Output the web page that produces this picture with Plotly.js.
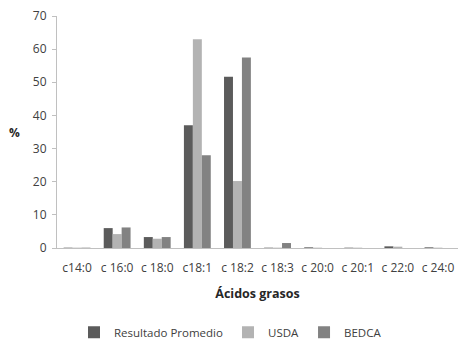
<!DOCTYPE html>
<html>
<head>
<meta charset="utf-8">
<script src="https://cdn.plot.ly/plotly-3.0.1.min.js"></script>
<style>html,body{margin:0;padding:0;background:#fff;}#chart{width:461px;height:341px;}</style>
</head>
<body>
<div id="chart"></div>
<script>
const categories = ["c14:0", "c 16:0", "c 18:0", "c18:1", "c 18:2", "c 18:3", "c 20:0", "c 20:1", "c 22:0", "c 24:0"];
const resultado = [0.1, 6.0, 3.3, 37.0, 51.7, 0.1, 0.2, 0.1, 0.5, 0.2];
const usda = [0.1, 4.2, 2.8, 63.0, 20.2, 0.1, 0.1, 0.1, 0.4, 0.1];
const bedca = [0.1, 6.2, 3.3, 28.0, 57.5, 1.5, 0.0, 0.0, 0.0, 0.0];
const seriesNames = ["Resultado Promedio", "USDA", "BEDCA"];
const yTicks = [0, 10, 20, 30, 40, 50, 60, 70];

const colors = ["#5b5b5b", "#b3b3b3", "#828282"];
const fontFam = "Open Sans, Liberation Sans, sans-serif";
const data = [resultado, usda, bedca].map((vals, i) => ({
  type: "bar",
  x: categories,
  y: vals,
  name: seriesNames[i],
  marker: {color: colors[i]}
}));

const layout = {
  width: 461, height: 341,
  margin: {l: 57, r: 3, t: 16, b: 93},
  paper_bgcolor: "#fff", plot_bgcolor: "#fff",
  font: {family: fontFam, size: 11, color: "#404040"},
  barmode: "group",
  bargap: 0.33,
  bargroupgap: 0,
  showlegend: true,
  xaxis: {
    type: "category",
    showline: true, linecolor: "#c0c0c0", linewidth: 1,
    ticks: "", showgrid: false, zeroline: false,
    ticklabelstandoff: 9,
    tickfont: {size: 12, color: "#404040"},
    title: {text: "<b>Ácidos grasos</b>", font: {size: 12.5, color: "#262626"}, standoff: 13}
  },
  yaxis: {
    range: [0, 70],
    tickvals: yTicks,
    showline: true, linecolor: "#c0c0c0", linewidth: 1,
    ticks: "outside", ticklen: 4, tickcolor: "#c0c0c0",
    ticklabelstandoff: 3,
    showgrid: false, zeroline: false,
    tickfont: {size: 12, color: "#404040"}
  },
  annotations: [{
    text: "<b>%</b>", xref: "paper", yref: "paper", x: -0.105, y: 0.5,
    xanchor: "center", yanchor: "middle", showarrow: false,
    font: {size: 12, color: "#262626"}
  }],
  legend: {
    orientation: "h",
    xref: "container", yref: "container",
    x: 0.5, xanchor: "center",
    y: 0.026, yanchor: "middle",
    font: {size: 11.5, color: "#404040"},
    itemwidth: 30,
    traceorder: "normal"
  }
};

Plotly.newPlot("chart", data, layout, {displayModeBar: false, staticPlot: true});
</script>
</body>
</html>
